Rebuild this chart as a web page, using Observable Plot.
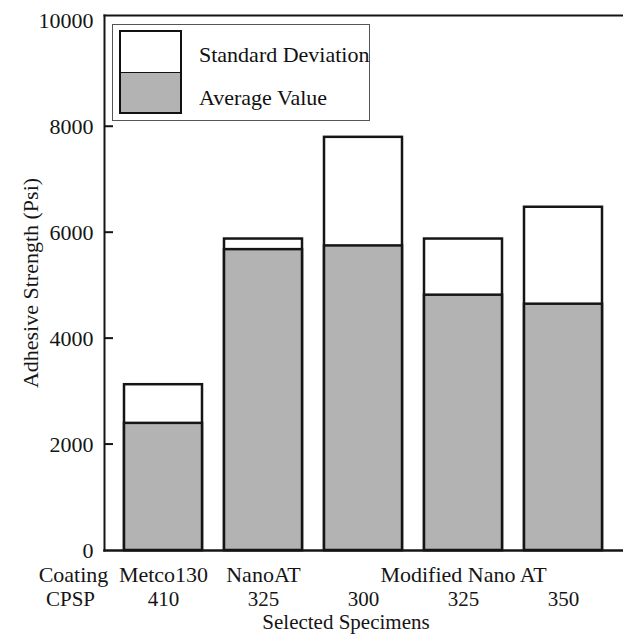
<!DOCTYPE html>
<html>
<head>
<meta charset="utf-8">
<script src="https://cdn.jsdelivr.net/npm/d3@7"></script>
<script src="https://cdn.jsdelivr.net/npm/@observablehq/plot@0.6"></script>
<style>
  html, body { margin: 0; padding: 0; background: #fff; overflow: hidden; }
  #wrap { position: relative; width: 623px; height: 635px; font-family: "Liberation Serif", "Times New Roman", serif; }
  #legend { position: absolute; left: 112px; top: 24px; width: 256px; height: 95px; border: 1.5px solid #555; background: #fff; box-sizing: content-box; }
  .sw { position: absolute; left: 6px; width: 59px; border: 2.5px solid #111; }
  .lt { position: absolute; left: 86px; font-size: 22px; color: #111; line-height: 1; white-space: nowrap; }
</style>
</head>
<body>
<div id="wrap"></div>
<script>
// ---- data ----
const ids = ["Metco130-410", "NanoAT-325", "Modified-300", "Modified-325", "Modified-350"];
const coatingLabels = ["Metco130", "NanoAT", "", "Modified Nano AT", ""];
const cpspLabels = ["410", "325", "300", "325", "350"];
const averageValue = [2400, 5680, 5750, 4820, 4650];       // Average Value (grey)
const averagePlusSD = [3130, 5880, 7800, 5880, 6480];      // top of Standard Deviation box
const yTicks = [0, 2000, 4000, 6000, 8000, 10000];
const legendLabels = ["Standard Deviation", "Average Value"];

const rows = ids.map((id, i) => ({
  id, coating: coatingLabels[i], cpsp: cpspLabels[i],
  avg: averageValue[i], top: averagePlusSD[i]
}));

const ink = "#151515";
const grey = "#b3b3b3";
const fontSize = 22;
const bottomFont = 21;
const TICK = 9;

// inward tick marks on the y axis, placed through the y scale
function inwardTicks(index, scales, values, dimensions) {
  const g = document.createElementNS("http://www.w3.org/2000/svg", "g");
  for (const t of yTicks.filter(d => d > 0 && d < 10000)) {
    const yy = scales.y(t);
    const l = document.createElementNS("http://www.w3.org/2000/svg", "line");
    l.setAttribute("x1", dimensions.marginLeft);
    l.setAttribute("x2", dimensions.marginLeft + TICK);
    l.setAttribute("y1", yy);
    l.setAttribute("y2", yy);
    l.setAttribute("stroke", ink);
    l.setAttribute("stroke-width", 2);
    g.appendChild(l);
  }
  return g;
}

const chart = Plot.plot({
  width: 623,
  height: 635,
  marginLeft: 104,
  marginRight: 0,
  marginTop: 15,
  marginBottom: 85,
  style: { fontFamily: "'Liberation Serif', 'Times New Roman', serif", fontSize: fontSize + "px", color: ink, background: "white" },
  x: { type: "band", domain: ids, paddingInner: 0.216, paddingOuter: 0.184, axis: null },
  y: { domain: [0, 10100], axis: null },
  marks: [
    Plot.barY(rows, { x: "id", y: "top", fill: "white", stroke: ink, strokeWidth: 2.5 }),
    Plot.barY(rows, { x: "id", y: "avg", fill: grey, stroke: ink, strokeWidth: 2.5 }),
    inwardTicks,
    Plot.frame({ anchor: "left", stroke: ink, strokeWidth: 2 }),
    Plot.frame({ anchor: "top", stroke: ink, strokeWidth: 2 }),
    Plot.frame({ anchor: "bottom", stroke: ink, strokeWidth: 2.5 }),
    Plot.axisY(yTicks, { tickSize: 0, tickPadding: 11, tickFormat: d => String(d), label: "Adhesive Strength (Psi)", labelAnchor: "center", labelArrow: "none", labelOffset: 82, fontSize, fill: ink }),
    Plot.axisX(ids, { tickSize: 0, tickPadding: 16, tickFormat: d => coatingLabels[ids.indexOf(d)], label: null, fontSize, fill: ink }),
    Plot.axisX(ids, { tickSize: 0, tickPadding: 41, tickFormat: d => cpspLabels[ids.indexOf(d)], label: null, fontSize: bottomFont, fill: ink }),
    Plot.text(["Coating"], { frameAnchor: "bottom-left", textAnchor: "middle", dx: -31, dy: 16, lineAnchor: "top", fontSize, fill: ink }),
    Plot.text(["CPSP"], { frameAnchor: "bottom-left", textAnchor: "middle", dx: -34, dy: 41, lineAnchor: "top", fontSize: bottomFont, fill: ink }),
    Plot.text(["Selected Specimens"], { frameAnchor: "bottom", textAnchor: "middle", dx: -18, dy: 64, lineAnchor: "top", fontSize: bottomFont, fill: ink })
  ]
});

const wrap = document.getElementById("wrap");
wrap.appendChild(chart);

// legend overlay inside the plot area
const legend = document.createElement("div");
legend.id = "legend";
legend.innerHTML = `
  <div class="sw" style="top:5px;height:40px;background:#fff;border-bottom-width:1.5px"></div>
  <div class="sw" style="top:47px;height:39px;background:${grey};border-top-width:1.5px"></div>
  <div class="lt" style="top:19px">${legendLabels[0]}</div>
  <div class="lt" style="top:62px">${legendLabels[1]}</div>`;
wrap.appendChild(legend);
</script>
</body>
</html>
